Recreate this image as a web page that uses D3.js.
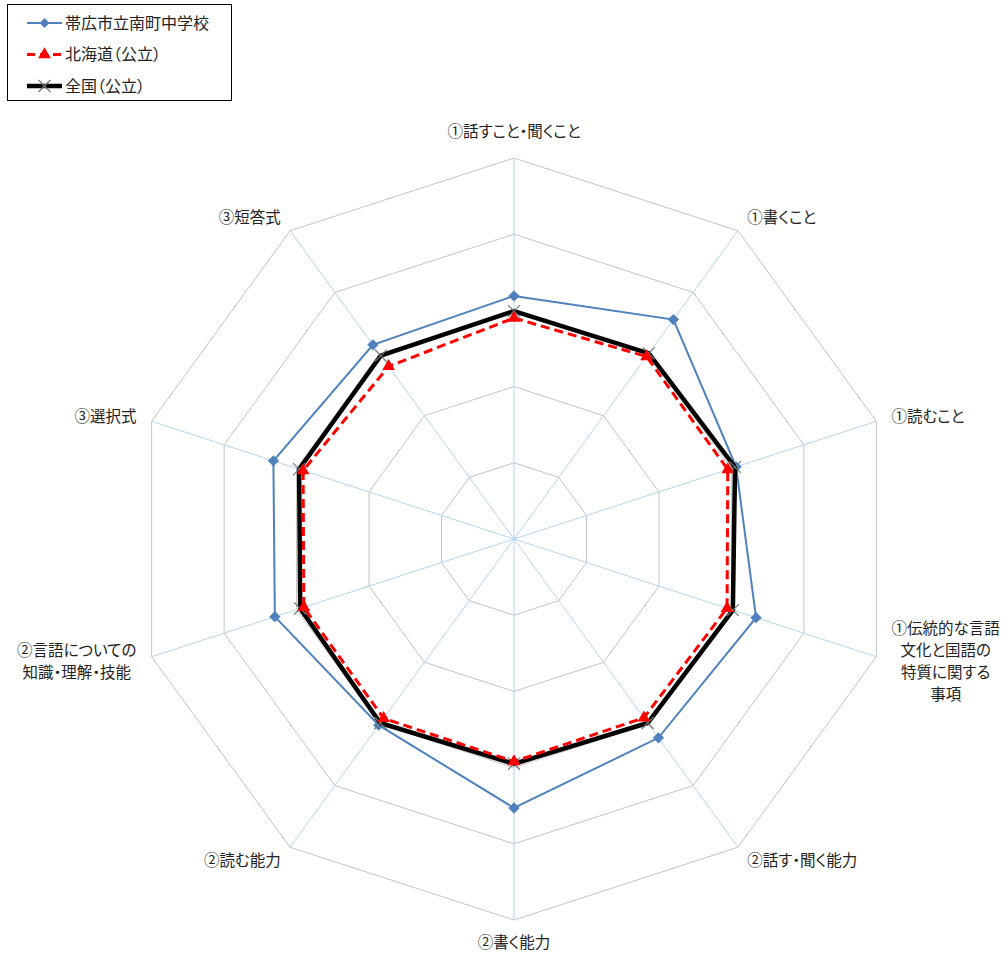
<!DOCTYPE html>
<html>
<head>
<meta charset="utf-8">
<script src="https://cdn.jsdelivr.net/npm/d3@7"></script>
<style>
  html, body { margin: 0; padding: 0; background: #fff; }
  svg { display: block; font-family: "Noto Sans CJK JP", "Noto Sans", sans-serif; }
  svg text { font-feature-settings: "palt" 1; }
</style>
</head>
<body>
<svg id="chart" width="1008" height="953"></svg>
<script>
// Axis categories (clockwise from the top); "\n" marks a line break
const categories = [
  "①話すこと・聞くこと",
  "①書くこと",
  "①読むこと",
  "①伝統的な言語\n文化と国語の\n特質に関する\n事項",
  "②話す・聞く能力",
  "②書く能力",
  "②読む能力",
  "②言語についての\n知識・理解・技能",
  "③選択式",
  "③短答式"
];

// Series values (percent correct)
const schoolValues   = [63.8, 71.2, 61.3, 66.8, 64.5, 70.6, 60.4, 66.0, 66.4, 63.0];
const hokkaidoValues = [58.0, 59.2, 59.0, 58.8, 58.0, 58.4, 58.2, 58.0, 58.2, 56.0];
const nationalValues = [59.8, 60.2, 61.0, 60.4, 59.7, 59.0, 59.7, 59.0, 59.3, 59.5];

const seriesNames = ["帯広市立南町中学校", "北海道（公立）", "全国（公立）"];

// Radial scale ticks
const rTicks = [20, 40, 60, 80, 100];
const rMax = 100;

const svg = d3.select("#chart");
const cx = 514, cy = 539, R = 381;
const n = categories.length;

const angle = d3.scaleLinear().domain([0, n]).range([0, 2 * Math.PI]);
const rScale = d3.scaleLinear().domain([0, rMax]).range([0, R]);

const g = svg.append("g").attr("transform", `translate(${cx},${cy})`);

const pt = (i, v) => {
  const a = angle(i);
  return [rScale(v) * Math.sin(a), -rScale(v) * Math.cos(a)];
};

// Concentric decagon rings
const ringLine = d3.lineRadial()
  .angle((d, i) => angle(i))
  .radius(d => rScale(d))
  .curve(d3.curveLinearClosed);

g.selectAll("path.ring")
  .data(rTicks)
  .join("path")
  .attr("class", "ring")
  .attr("d", t => ringLine(d3.range(n).map(() => t)))
  .attr("fill", "none")
  .attr("stroke", "#c4c4c4")
  .attr("stroke-width", 1);

// Spokes
g.selectAll("line.spoke")
  .data(d3.range(n))
  .join("line")
  .attr("class", "spoke")
  .attr("x1", 0).attr("y1", 0)
  .attr("x2", i => pt(i, rMax)[0])
  .attr("y2", i => pt(i, rMax)[1])
  .attr("stroke", "#b4d6ee")
  .attr("stroke-width", 1);

// Category labels
const labelGap = 16;
const lineH = 22;
categories.forEach((label, i) => {
  const a = angle(i);
  const s = Math.sin(a), c = Math.cos(a);
  const [ox, oy] = pt(i, rMax);
  let lx = ox + labelGap * s;
  let ly = oy - labelGap * c;
  if (Math.abs(s) < 0.1) ly += (c > 0 ? -10 : 7);
  const lines = label.split("\n");
  const t = g.append("text")
    .attr("font-size", 15.5)
    .attr("fill", "#222");
  lines.forEach((ln, k) => {
    t.append("tspan").text(ln)
      .attr("y", ly + (k - (lines.length - 1) / 2) * lineH)
      .attr("dy", "0.35em");
  });
  // Centre lines within the block, block anchored by side
  const widths = [];
  t.selectAll("tspan").each(function () { widths.push(this.getComputedTextLength()); });
  const bw = d3.max(widths);
  let blockCenter;
  if (s > 0.1) blockCenter = lx + bw / 2;
  else if (s < -0.1) blockCenter = lx - bw / 2;
  else blockCenter = lx;
  t.attr("text-anchor", "middle");
  t.selectAll("tspan").attr("x", blockCenter);
});

const radialLine = d3.lineRadial()
  .angle((d, i) => angle(i))
  .radius(d => rScale(d))
  .curve(d3.curveLinearClosed);

// School series (blue, diamonds)
g.append("path")
  .attr("d", radialLine(schoolValues))
  .attr("fill", "none")
  .attr("stroke", "#4f81bd")
  .attr("stroke-width", 2);
g.selectAll("rect.school")
  .data(schoolValues)
  .join("rect")
  .attr("class", "school")
  .attr("x", -4).attr("y", -4).attr("width", 8).attr("height", 8)
  .attr("fill", "#4f81bd")
  .attr("transform", (d, i) => `translate(${pt(i, d)}) rotate(45)`);

// National series (black, thick, × markers)
g.append("path")
  .attr("d", radialLine(nationalValues))
  .attr("fill", "none")
  .attr("stroke", "#000")
  .attr("stroke-width", 4.5)
  .attr("stroke-linejoin", "miter");
const crossPath = "M-6,-6L6,6M-6,6L6,-6";
g.selectAll("path.nat")
  .data(nationalValues)
  .join("path")
  .attr("class", "nat")
  .attr("d", crossPath)
  .attr("stroke", "#777")
  .attr("stroke-width", 1.2)
  .attr("transform", (d, i) => `translate(${pt(i, d)})`);

// Hokkaido series (red dashed, triangles)
g.append("path")
  .attr("d", radialLine(hokkaidoValues))
  .attr("fill", "none")
  .attr("stroke", "#ff0000")
  .attr("stroke-width", 3)
  .attr("stroke-dasharray", "9,5");
const tri = d3.symbol().type(d3.symbolTriangle).size(70);
g.selectAll("path.hok")
  .data(hokkaidoValues)
  .join("path")
  .attr("class", "hok")
  .attr("d", tri)
  .attr("fill", "#ff0000")
  .attr("transform", (d, i) => `translate(${pt(i, d)})`);

// Legend
const legend = svg.append("g");
legend.append("rect")
  .attr("x", 7.5).attr("y", 4.5).attr("width", 224).attr("height", 96)
  .attr("fill", "#fff").attr("stroke", "#000").attr("stroke-width", 1);

const legY = d3.scalePoint().domain(seriesNames).range([23, 86]);
const lx1 = 27, lx2 = 62, lm = 44.5;

// school entry
legend.append("line").attr("x1", lx1).attr("x2", lx2)
  .attr("y1", legY(seriesNames[0])).attr("y2", legY(seriesNames[0]))
  .attr("stroke", "#4f81bd").attr("stroke-width", 2);
legend.append("rect").attr("x", -3.5).attr("y", -3.5).attr("width", 7).attr("height", 7)
  .attr("fill", "#4f81bd")
  .attr("transform", `translate(${lm},${legY(seriesNames[0])}) rotate(45)`);
// hokkaido entry
legend.append("line").attr("x1", lx1).attr("x2", lx2)
  .attr("y1", legY(seriesNames[1])).attr("y2", legY(seriesNames[1]))
  .attr("stroke", "#ff0000").attr("stroke-width", 3).attr("stroke-dasharray", "8,5");
legend.append("path").attr("d", tri)
  .attr("fill", "#ff0000")
  .attr("transform", `translate(${lm},${legY(seriesNames[1])})`);
// national entry
legend.append("line").attr("x1", lx1).attr("x2", lx2)
  .attr("y1", legY(seriesNames[2])).attr("y2", legY(seriesNames[2]))
  .attr("stroke", "#000").attr("stroke-width", 4.5);
legend.append("path").attr("d", crossPath)
  .attr("stroke", "#777").attr("stroke-width", 1.2)
  .attr("transform", `translate(${lm},${legY(seriesNames[2])})`);

legend.selectAll("text")
  .data(seriesNames)
  .join("text")
  .attr("x", 65)
  .attr("y", d => legY(d))
  .attr("dy", "0.35em")
  .attr("font-size", 16)
  .attr("fill", "#222")
  .text(d => d);
</script>
</body>
</html>
